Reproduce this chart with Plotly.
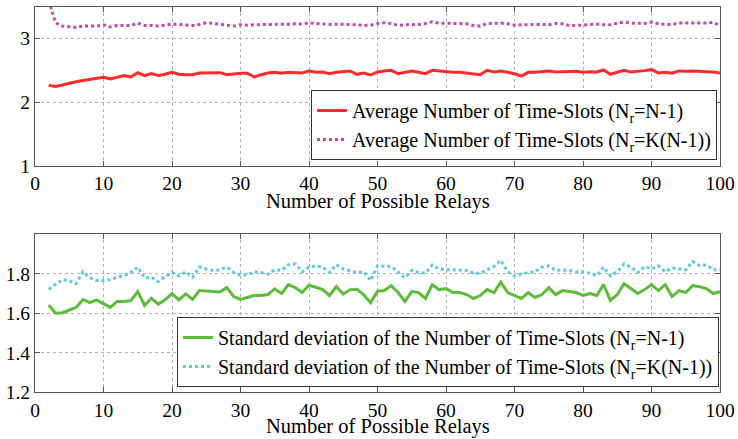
import plotly.graph_objects as go

relays = list(range(2, 101))

avg_nr_n1 = [2.263, 2.247, 2.268, 2.30, 2.32, 2.34, 2.358, 2.374, 2.39, 2.363,
             2.39, 2.416, 2.395, 2.463, 2.416, 2.447, 2.42, 2.437, 2.468, 2.437,
             2.43, 2.43, 2.458, 2.463, 2.463, 2.463, 2.43, 2.447, 2.453, 2.453,
             2.395, 2.43, 2.458, 2.468, 2.453, 2.468, 2.468, 2.458, 2.49, 2.468,
             2.474, 2.447, 2.468, 2.474, 2.49, 2.437, 2.458, 2.426, 2.474, 2.49,
             2.50, 2.447, 2.468, 2.49, 2.468, 2.447, 2.50, 2.49, 2.474, 2.468,
             2.468, 2.458, 2.447, 2.43, 2.50, 2.474, 2.49, 2.474, 2.447, 2.41,
             2.468, 2.468, 2.484, 2.49, 2.474, 2.474, 2.474, 2.484, 2.468, 2.479,
             2.474, 2.505, 2.437, 2.468, 2.50, 2.474, 2.479, 2.495, 2.51, 2.458,
             2.468, 2.453, 2.49, 2.484, 2.49, 2.479, 2.479, 2.474, 2.458]

avg_nr_kn1 = [3.60, 3.247, 3.195, 3.184, 3.174, 3.195, 3.195, 3.195, 3.216, 3.18,
              3.205, 3.21, 3.205, 3.242, 3.205, 3.205, 3.195, 3.21, 3.226, 3.221,
              3.216, 3.205, 3.221, 3.247, 3.237, 3.226, 3.216, 3.195, 3.216, 3.21,
              3.216, 3.216, 3.221, 3.221, 3.221, 3.226, 3.232, 3.226, 3.247, 3.237,
              3.226, 3.221, 3.226, 3.226, 3.221, 3.216, 3.205, 3.21, 3.237, 3.247,
              3.237, 3.205, 3.216, 3.221, 3.22, 3.237, 3.263, 3.242, 3.237, 3.237,
              3.237, 3.232, 3.205, 3.195, 3.237, 3.242, 3.242, 3.232, 3.21, 3.216,
              3.221, 3.221, 3.221, 3.216, 3.237, 3.232, 3.205, 3.205, 3.21, 3.221,
              3.226, 3.216, 3.216, 3.242, 3.258, 3.242, 3.237, 3.237, 3.258, 3.232,
              3.221, 3.221, 3.242, 3.242, 3.237, 3.237, 3.242, 3.253, 3.205]

std_nr_n1 = [1.642, 1.60, 1.603, 1.617, 1.63, 1.67, 1.654, 1.668, 1.65, 1.63,
             1.66, 1.66, 1.664, 1.71, 1.64, 1.676, 1.646, 1.668, 1.70, 1.668,
             1.698, 1.67, 1.715, 1.712, 1.71, 1.708, 1.73, 1.685, 1.67, 1.68,
             1.69, 1.69, 1.695, 1.724, 1.70, 1.745, 1.73, 1.705, 1.742, 1.732,
             1.72, 1.69, 1.735, 1.697, 1.72, 1.722, 1.693, 1.654, 1.712, 1.715,
             1.74, 1.705, 1.66, 1.71, 1.705, 1.675, 1.745, 1.72, 1.725, 1.705,
             1.705, 1.695, 1.675, 1.69, 1.72, 1.705, 1.758, 1.705, 1.69, 1.675,
             1.705, 1.68, 1.695, 1.73, 1.695, 1.715, 1.71, 1.705, 1.69, 1.70,
             1.69, 1.745, 1.665, 1.695, 1.75, 1.725, 1.70, 1.72, 1.745, 1.715,
             1.745, 1.685, 1.715, 1.705, 1.74, 1.735, 1.725, 1.70, 1.71]

std_nr_kn1 = [1.722, 1.747, 1.77, 1.765, 1.75, 1.81, 1.78, 1.766, 1.766, 1.77,
              1.783, 1.79, 1.807, 1.834, 1.778, 1.783, 1.76, 1.786, 1.807, 1.79,
              1.81, 1.783, 1.834, 1.824, 1.817, 1.82, 1.834, 1.807, 1.793, 1.795,
              1.81, 1.807, 1.798, 1.82, 1.817, 1.846, 1.85, 1.81, 1.834, 1.84,
              1.834, 1.807, 1.846, 1.824, 1.817, 1.807, 1.81, 1.766, 1.84, 1.84,
              1.837, 1.81, 1.78, 1.817, 1.807, 1.803, 1.845, 1.825, 1.82, 1.82,
              1.82, 1.817, 1.803, 1.803, 1.82, 1.837, 1.868, 1.81, 1.79, 1.80,
              1.807, 1.81, 1.834, 1.84, 1.817, 1.82, 1.817, 1.81, 1.81, 1.803,
              1.79, 1.834, 1.79, 1.81, 1.85, 1.834, 1.807, 1.837, 1.825, 1.84,
              1.81, 1.83, 1.825, 1.82, 1.863, 1.842, 1.845, 1.82, 1.82]

x_ticks = [0, 10, 20, 30, 40, 50, 60, 70, 80, 90, 100]
top_y_ticks = [1, 2, 3]
bottom_y_ticks = [1.2, 1.4, 1.6, 1.8]

x_title = "Number of Possible Relays"
names = [
    "Average Number of Time-Slots (N<sub>r</sub>=N-1)",
    "Average Number of Time-Slots (N<sub>r</sub>=K(N-1))",
    "Standard deviation of the Number of Time-Slots (N<sub>r</sub>=N-1)",
    "Standard deviation of the Number of Time-Slots (N<sub>r</sub>=K(N-1))",
]

FONT = "Liberation Serif"
W, H = 738, 439

fig = go.Figure()
fig.add_trace(go.Scatter(x=relays, y=avg_nr_n1, mode="lines", name=names[0],
                         line=dict(color="#FF2A2A", width=3), xaxis="x", yaxis="y",
                         legend="legend"))
fig.add_trace(go.Scatter(x=relays, y=avg_nr_kn1, mode="lines", name=names[1],
                         line=dict(color="#C048A8", width=3, dash="dot"), xaxis="x", yaxis="y",
                         legend="legend"))
fig.add_trace(go.Scatter(x=relays, y=std_nr_n1, mode="lines", name=names[2],
                         line=dict(color="#5DBB3C", width=3), xaxis="x2", yaxis="y2",
                         legend="legend2"))
fig.add_trace(go.Scatter(x=relays, y=std_nr_kn1, mode="lines", name=names[3],
                         line=dict(color="#5CC8E2", width=3, dash="dot"), xaxis="x2", yaxis="y2",
                         legend="legend2"))

xdom = [35 / W, 720 / W]
top_dom = [1 - 165.7 / H, 1 - 6.7 / H]
bot_dom = [1 - 392.3 / H, 1 - 234.3 / H]

axis_common = dict(
    showline=True, linecolor="#555555", linewidth=1, mirror="ticks",
    ticks="inside", ticklen=5, tickcolor="#555555",
    showgrid=True, gridcolor="#B0B0B0", griddash="dot", gridwidth=1,
    zeroline=False, automargin=False,
    tickfont=dict(family=FONT, size=19.5, color="black"),
)

fig.update_layout(
    width=W, height=H,
    margin=dict(l=0, r=0, t=0, b=0),
    paper_bgcolor="white", plot_bgcolor="white",
    font=dict(family=FONT, color="black"),
    showlegend=True,
    xaxis=dict(domain=xdom, range=[0, 100], tickvals=x_ticks, anchor="y",
               **axis_common),
    yaxis=dict(domain=top_dom, range=[1, 3.5], tickvals=top_y_ticks, anchor="x",
               **axis_common),
    xaxis2=dict(domain=xdom, range=[0, 100], tickvals=x_ticks, anchor="y2",
                **axis_common),
    yaxis2=dict(domain=bot_dom, range=[1.2, 2.0], tickvals=bottom_y_ticks, anchor="x2",
                **axis_common),
    legend=dict(x=717 / W, y=1 - 90 / H, xanchor="right", yanchor="top",
                bgcolor="white", bordercolor="#333333", borderwidth=1,
                font=dict(family=FONT, size=20), itemwidth=30,
                tracegroupgap=0),
    legend2=dict(x=719 / W, y=1 - 317 / H, xanchor="right", yanchor="top",
                 bgcolor="white", bordercolor="#333333", borderwidth=1,
                 font=dict(family=FONT, size=20), itemwidth=30,
                 tracegroupgap=0),
    annotations=[
        dict(text=x_title, xref="paper", yref="paper", x=(35 + 720) / 2 / W,
             y=1 - 201 / H, xanchor="center", yanchor="middle", showarrow=False,
             font=dict(family=FONT, size=20.5, color="black")),
        dict(text=x_title, xref="paper", yref="paper", x=(35 + 720) / 2 / W,
             y=1 - 426 / H, xanchor="center", yanchor="middle", showarrow=False,
             font=dict(family=FONT, size=20.5, color="black")),
    ],
)

fig.write_html("out.html", config={"displayModeBar": False},
               post_script="document.body.style.margin='0px';document.body.style.overflow='hidden';")
